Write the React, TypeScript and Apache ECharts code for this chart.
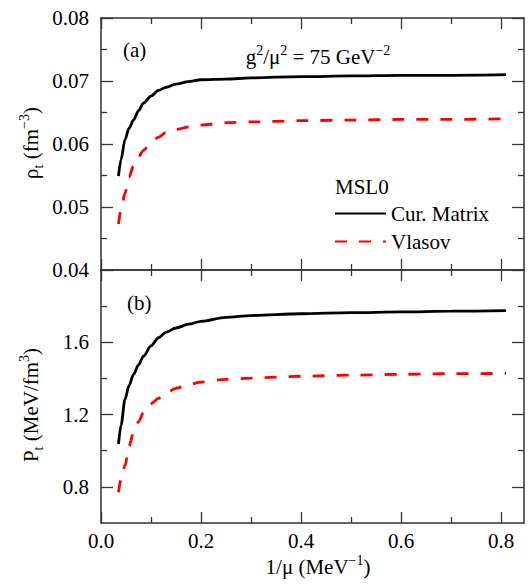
import React, { useEffect, useRef } from "react";
import * as echarts from "echarts";

// ---- data ----
const invMu = [0.035, 0.04, 0.048, 0.056, 0.065, 0.075, 0.085, 0.1, 0.115, 0.13, 0.15, 0.175, 0.2, 0.25, 0.3, 0.4, 0.5, 0.6, 0.7, 0.81];
const rhoCurMatrix = [0.0549, 0.0575, 0.0607, 0.0625, 0.0638, 0.0653, 0.0665, 0.0676, 0.0685, 0.069, 0.0695, 0.0699, 0.0702, 0.0703, 0.0705, 0.0707, 0.0708, 0.0709, 0.0709, 0.071];
const rhoVlasov = [0.0473, 0.0495, 0.0522, 0.0547, 0.0565, 0.058, 0.059, 0.0602, 0.0611, 0.0618, 0.0623, 0.0627, 0.063, 0.0634, 0.0635, 0.0637, 0.0638, 0.0639, 0.0639, 0.064];
const pCurMatrix = [1.036, 1.14, 1.284, 1.36, 1.422, 1.475, 1.523, 1.58, 1.625, 1.655, 1.679, 1.7, 1.716, 1.738, 1.748, 1.758, 1.764, 1.768, 1.772, 1.775];
const pVlasov = [0.77, 0.84, 0.917, 1.025, 1.1, 1.16, 1.21, 1.26, 1.29, 1.32, 1.345, 1.365, 1.38, 1.395, 1.402, 1.412, 1.418, 1.423, 1.426, 1.428];

const xMajor = [0, 0.2, 0.4, 0.6, 0.8];
const xMinor = [0.1, 0.3, 0.5, 0.7];
const rhoMajor = [0.04, 0.05, 0.06, 0.07, 0.08];
const rhoMinor = [0.045, 0.055, 0.065, 0.075];
const pMajor = [0.8, 1.2, 1.6];
const pMinor = [1.0, 1.4, 1.8];

const FONT = "Liberation Serif";
const AXIS_COLOR = "#333";

function pairs(xs: number[], ys: number[]) {
  return xs.map((x, i) => [x, ys[i]]);
}

function makeAxis(opts: any) {
  const { gridIndex, position, min, max, ticks, len, line, labels, fmt } = opts;
  return {
    type: "value",
    gridIndex,
    position,
    min,
    max,
    splitLine: { show: false },
    axisLine: { show: line, onZero: false, lineStyle: { color: AXIS_COLOR, width: 1.5 } },
    axisTick: { show: true, inside: true, length: len, customValues: ticks, lineStyle: { color: AXIS_COLOR, width: 1.3 } },
    axisLabel: labels
      ? {
          show: true,
          customValues: labels,
          formatter: fmt,
          fontFamily: FONT,
          fontSize: 21,
          color: "#000",
          margin: position === "left" ? 12 : 7,
        }
      : { show: false },
  };
}

function xAxesFor(gridIndex: number, withLabels: boolean) {
  const base = { gridIndex, min: 0, max: 0.846 };
  return [
    makeAxis({ ...base, position: "bottom", ticks: xMajor, len: 11, line: true, labels: withLabels ? xMajor : null, fmt: (v: number) => v.toFixed(1) }),
    makeAxis({ ...base, position: "bottom", ticks: xMinor, len: 6, line: false, labels: null }),
    makeAxis({ ...base, position: "top", ticks: xMajor, len: 11, line: true, labels: null }),
    makeAxis({ ...base, position: "top", ticks: xMinor, len: 6, line: false, labels: null }),
  ];
}

function yAxesFor(gridIndex: number, min: number, max: number, major: number[], minor: number[], digits: number) {
  const base = { gridIndex, min, max };
  return [
    makeAxis({ ...base, position: "left", ticks: major, len: 12, line: true, labels: major, fmt: (v: number) => v.toFixed(digits) }),
    makeAxis({ ...base, position: "left", ticks: minor, len: 6, line: false, labels: null }),
    makeAxis({ ...base, position: "right", ticks: major, len: 12, line: true, labels: null }),
    makeAxis({ ...base, position: "right", ticks: minor, len: 6, line: false, labels: null }),
  ];
}

const richBase = {
  a: { fontFamily: FONT, fontSize: 21, color: "#000", lineHeight: 28 },
  s: { fontFamily: FONT, fontSize: 14, color: "#000", lineHeight: 14, verticalAlign: "bottom" },
  p: { fontFamily: FONT, fontSize: 14, color: "#000", lineHeight: 14, verticalAlign: "top" },
};

function richText(text: string, x: number, y: number, rotation = 0, align = "center") {
  return {
    type: "text",
    x,
    y,
    rotation,
    style: {
      text,
      rich: richBase,
      fontFamily: FONT,
      fontSize: 21,
      fill: "#000",
      textAlign: align,
      align,
      textVerticalAlign: "middle",
      verticalAlign: "middle",
    },
  };
}

export default function App() {
  const ref = useRef<HTMLDivElement>(null);
  useEffect(() => {
    if (!ref.current) return;
    const chart = echarts.init(ref.current, undefined, { renderer: "svg" });
    const blackLine = { color: "#000", width: 2.8, type: "solid" };
    const redLine = { color: "#ff0000", width: 2.8, type: [12, 12] };
    const option: any = {
      animation: false,
      backgroundColor: "#fff",
      textStyle: { fontFamily: FONT },
      grid: [
        { left: 101, top: 18, width: 423, height: 252, outerBoundsMode: "none" },
        { left: 101, top: 270, width: 423, height: 253, outerBoundsMode: "none" },
      ],
      xAxis: [...xAxesFor(0, false), ...xAxesFor(1, true)],
      yAxis: [
        ...yAxesFor(0, 0.04, 0.08, rhoMajor, rhoMinor, 2),
        ...yAxesFor(1, 0.6, 2.0, pMajor, pMinor, 1),
      ],
      legend: {
        show: true,
        orient: "vertical",
        left: 334,
        top: 203,
        padding: 0,
        itemWidth: 51,
        itemHeight: 20,
        itemGap: 7,
        itemStyle: { opacity: 0 },
        data: ["Cur. Matrix", "Vlasov"],
        textStyle: { fontFamily: FONT, fontSize: 21, color: "#000", lineHeight: 20 },
      },
      series: [
        { name: "Cur. Matrix", type: "line", xAxisIndex: 0, yAxisIndex: 0, data: pairs(invMu, rhoCurMatrix), symbol: "none", showSymbol: false, smooth: 0.3, smoothMonotone: "x", lineStyle: blackLine, itemStyle: { color: "#000" } },
        { name: "Vlasov", type: "line", xAxisIndex: 0, yAxisIndex: 0, data: pairs(invMu, rhoVlasov), symbol: "none", showSymbol: false, smooth: 0.3, smoothMonotone: "x", lineStyle: redLine, itemStyle: { color: "#ff0000" } },
        { name: "Cur. Matrix", type: "line", xAxisIndex: 4, yAxisIndex: 4, data: pairs(invMu, pCurMatrix), symbol: "none", showSymbol: false, smooth: 0.3, smoothMonotone: "x", lineStyle: blackLine, itemStyle: { color: "#000" } },
        { name: "Vlasov", type: "line", xAxisIndex: 4, yAxisIndex: 4, data: pairs(invMu, pVlasov), symbol: "none", showSymbol: false, smooth: 0.3, smoothMonotone: "x", lineStyle: redLine, itemStyle: { color: "#ff0000" } },
      ],
      graphic: [
        richText("{a|(a)}", 123, 50, 0, "left"),
        richText("{a|(b)}", 127, 303, 0, "left"),
        richText("{a|g}{p|2}{a|/μ}{p|2}{a| = 75 GeV}{p|−2}", 318, 57),
        richText("{a|MSL0}", 335, 187, 0, "left"),
        richText("{a|ρ}{s|t}{a| (fm}{p|−3}{a|)}", 31, 143, Math.PI / 2),
        richText("{a|P}{s|t}{a| (MeV/fm}{p|3}{a|)}", 31, 405, Math.PI / 2),
        richText("{a|1/μ (MeV}{p|−1}{a|)}", 318, 567),
      ],
    };
    chart.setOption(option);
    return () => chart.dispose();
  }, []);
  return (
    <div
      ref={ref}
      style={{ position: "fixed", left: 0, top: 0, width: 528, height: 587, background: "#fff" }}
    />
  );
}
